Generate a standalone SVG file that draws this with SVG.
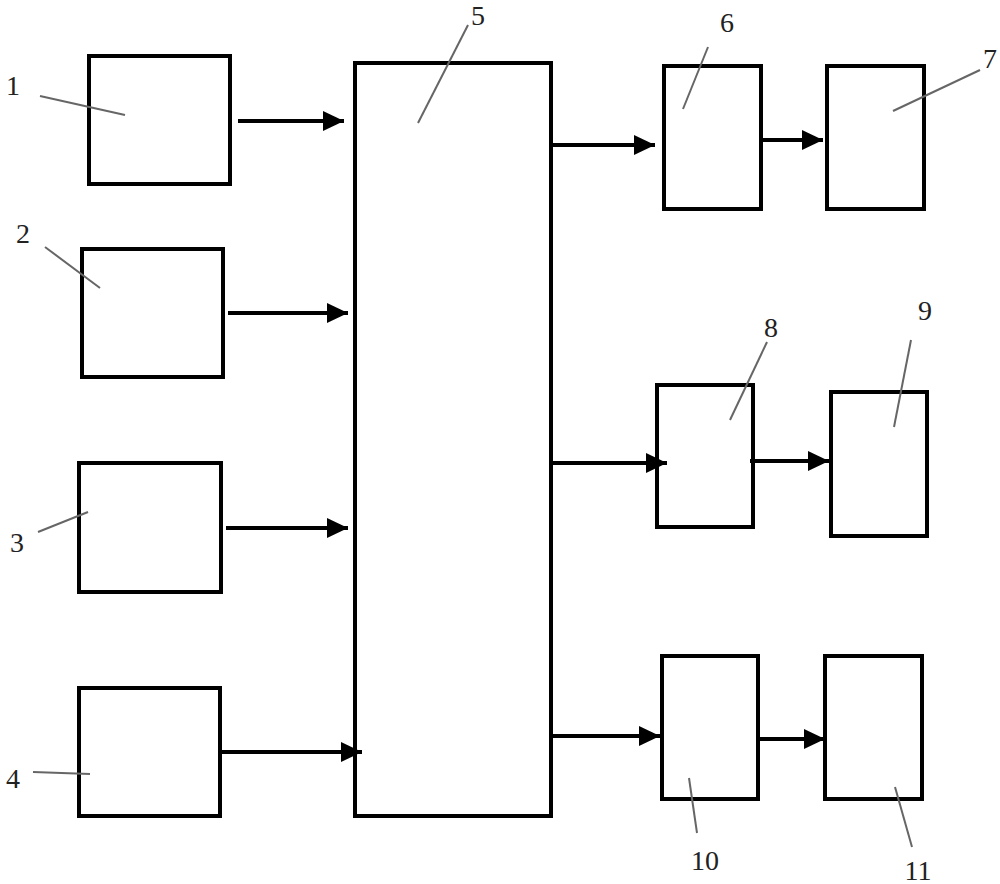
<svg xmlns="http://www.w3.org/2000/svg" width="1000" height="884" viewBox="0 0 1000 884">
<style>
.box{fill:#fff;stroke:#000;stroke-width:4}
.arr{fill:none;stroke:#000;stroke-width:4}
.lead{fill:none;stroke:#666;stroke-width:2}
.lbl{font-family:"Liberation Serif",serif;font-size:28px;fill:#222;text-anchor:middle}
</style>
<defs>
<marker id="ah" markerUnits="userSpaceOnUse" markerWidth="22" markerHeight="22" refX="21" refY="11" orient="auto">
<path d="M0,1 L21,11 L0,21 Z" fill="#000"/>
</marker>
</defs>
<rect width="1000" height="884" fill="#fff"/>
<g id="node1"><rect class="box" x="89" y="56" width="141" height="128"/></g>
<g id="node2"><rect class="box" x="82" y="249" width="141" height="128"/></g>
<g id="node3"><rect class="box" x="79" y="463" width="142" height="129"/></g>
<g id="node4"><rect class="box" x="79" y="688" width="141" height="128"/></g>
<g id="node5"><rect class="box" x="355" y="63" width="196" height="753"/></g>
<g id="node6"><rect class="box" x="664" y="66" width="97" height="143"/></g>
<g id="node7"><rect class="box" x="827" y="66" width="97" height="143"/></g>
<g id="node8"><rect class="box" x="657" y="385" width="96" height="142"/></g>
<g id="node9"><rect class="box" x="831" y="392" width="96" height="144"/></g>
<g id="node10"><rect class="box" x="662" y="656" width="96" height="143"/></g>
<g id="node11"><rect class="box" x="825" y="656" width="97" height="143"/></g>
<g id="connectors">
<line class="arr" x1="238" y1="121" x2="344" y2="121" marker-end="url(#ah)"/>
<line class="arr" x1="228" y1="313" x2="348" y2="313" marker-end="url(#ah)"/>
<line class="arr" x1="226" y1="528" x2="348" y2="528" marker-end="url(#ah)"/>
<line class="arr" x1="220" y1="752" x2="362" y2="752" marker-end="url(#ah)"/>
<line class="arr" x1="551" y1="145" x2="655" y2="145" marker-end="url(#ah)"/>
<line class="arr" x1="761" y1="140" x2="823" y2="140" marker-end="url(#ah)"/>
<line class="arr" x1="551" y1="463" x2="667" y2="463" marker-end="url(#ah)"/>
<line class="arr" x1="750" y1="461" x2="829" y2="461" marker-end="url(#ah)"/>
<line class="arr" x1="551" y1="736" x2="660" y2="736" marker-end="url(#ah)"/>
<line class="arr" x1="758" y1="739" x2="825" y2="739" marker-end="url(#ah)"/>
</g>
<g id="leaders">
<line class="lead" x1="40" y1="96" x2="125" y2="115"/>
<line class="lead" x1="45" y1="247" x2="100" y2="288"/>
<line class="lead" x1="38" y1="532" x2="88" y2="512"/>
<line class="lead" x1="33" y1="772" x2="90" y2="774"/>
<line class="lead" x1="468" y1="25" x2="418" y2="123"/>
<line class="lead" x1="708" y1="47" x2="683" y2="109"/>
<line class="lead" x1="980" y1="70" x2="893" y2="111"/>
<line class="lead" x1="767" y1="342" x2="730" y2="420"/>
<line class="lead" x1="911" y1="340" x2="894" y2="427"/>
<line class="lead" x1="689" y1="778" x2="697" y2="833"/>
<line class="lead" x1="895" y1="787" x2="912" y2="847"/>
</g>
<g id="labels">
<text class="lbl" x="13" y="95">1</text>
<text class="lbl" x="23" y="243">2</text>
<text class="lbl" x="17" y="552">3</text>
<text class="lbl" x="13" y="788">4</text>
<text class="lbl" x="478" y="25">5</text>
<text class="lbl" x="727" y="32">6</text>
<text class="lbl" x="990" y="68">7</text>
<text class="lbl" x="771" y="337">8</text>
<text class="lbl" x="925" y="320">9</text>
<text class="lbl" x="705" y="870">10</text>
<text class="lbl" x="918" y="880">11</text>
</g>
</svg>
